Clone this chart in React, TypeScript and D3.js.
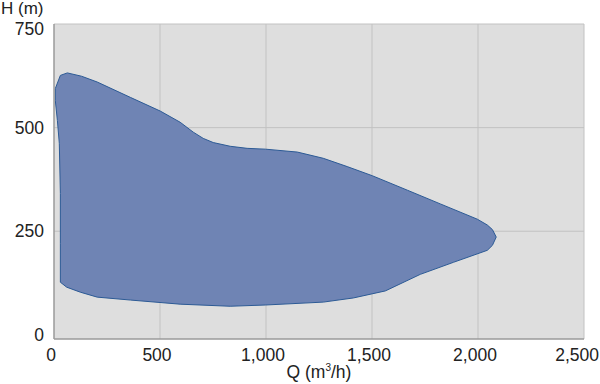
import React from 'react';
import * as d3 from 'd3';

// Operating envelope boundary, traced clockwise from top-left
const flowQ = [6, 30, 63, 130, 204, 360, 501, 595, 657, 704, 751, 831, 911, 997, 1148, 1270, 1383, 1501, 1667, 1822, 1997, 2044, 2068, 2086, 2068, 2044, 1884, 1728, 1563, 1412, 1270, 997, 831, 595, 360, 204, 124, 60, 30, 30, 30, 25, 16, 6];
const headH = [594, 626, 632, 624, 610, 573, 540, 513, 489, 474, 464, 455, 450, 448, 441, 426, 406, 384, 349, 316, 279, 265, 254, 236, 216, 204, 175, 146, 106, 89, 79, 72, 69, 74, 84, 91, 103, 115, 127, 221, 341, 462, 517, 566];

const xTicks = [0, 500, 1000, 1500, 2000, 2500];
const yTicks = [0, 250, 500, 750];

const App = () => {
  const width = 600;
  const height = 384;
  const left = 54;
  const right = 584;
  const top = 24;
  const bottom = 339;

  const x = d3.scaleLinear().domain([0, 2500]).range([left, right]);
  const y = d3.scaleLinear().domain([-10, 750]).range([bottom, top]);

  const pts: [number, number][] = flowQ.map((q, i) => [q, headH[i]]);
  const area = d3.line<[number, number]>()
    .x(d => x(d[0]))
    .y(d => y(d[1]))
    .curve(d3.curveLinearClosed);

  const fmt = d3.format(',');
  const font = '"Liberation Sans", Arial, Helvetica, sans-serif';

  return (
    <svg width={width} height={height} style={{ position: 'absolute', left: 0, top: 0 }} fontFamily={font}>
      <rect x={left} y={top} width={right - left} height={bottom - top} fill="#dedede" />
      {xTicks.slice(1).map(t => (
        <line key={'gx' + t} x1={x(t)} x2={x(t)} y1={top} y2={bottom} stroke="#c2c2c2" strokeWidth={1} />
      ))}
      {yTicks.slice(1).map(t => (
        <line key={'gy' + t} x1={left} x2={right} y1={y(t)} y2={y(t)} stroke="#c2c2c2" strokeWidth={1} />
      ))}
      <path d={area(pts) || ''} fill="#6f84b4" stroke="#2c5a95" strokeWidth={1} strokeLinejoin="round" />
      <line x1={left} x2={left} y1={top} y2={bottom} stroke="#9a9a9a" strokeWidth={1.5} />
      <line x1={left} x2={right} y1={bottom} y2={bottom} stroke="#9a9a9a" strokeWidth={1.5} />

      {yTicks.map((t, i) => (
        <text
          key={'ly' + t}
          x={44}
          y={y(t) + (i === yTicks.length - 1 ? 4.5 : 0)}
          dy="0.35em"
          textAnchor="end"
          fontSize={17.5}
          fill="#222"
        >
          {t}
        </text>
      ))}
      {xTicks.map((t, i) => (
        <text
          key={'lx' + t}
          x={i === xTicks.length - 1 ? 599 : x(t) - 3}
          y={361}
          textAnchor={i === xTicks.length - 1 ? 'end' : 'middle'}
          fontSize={17.5}
          fill="#222"
        >
          {fmt(t)}
        </text>
      ))}
      <text x={1} y={14} fontSize={17} fill="#222">H (m)</text>
      <text x={(left + right) / 2} y={378} textAnchor="middle" fontSize={17.5} fill="#222">
        Q (m<tspan fontSize={10} dy={-7}>3</tspan><tspan dy={7}>/h)</tspan>
      </text>
    </svg>
  );
};

export default App;
